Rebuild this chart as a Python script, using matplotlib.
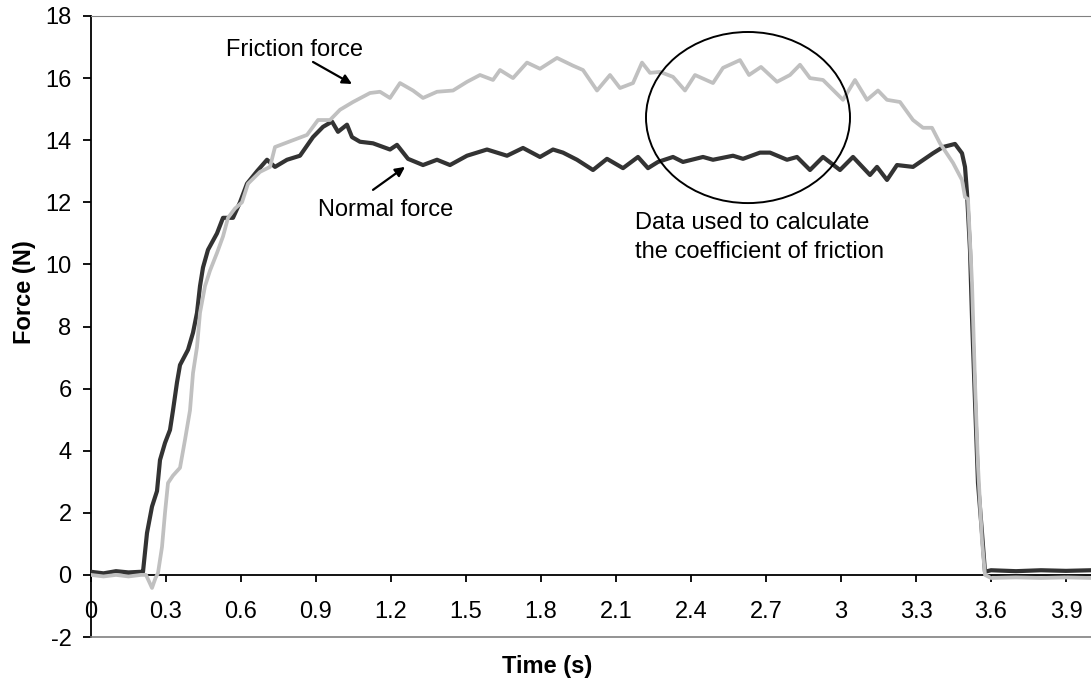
import matplotlib.pyplot as plt
from matplotlib.patches import Ellipse

plt.rcParams['font.family'] = ['Liberation Sans', 'DejaVu Sans']
plt.rcParams['axes.unicode_minus'] = False

# Normal force (dark curve)
t_normal = [0, 0.05, 0.1, 0.15, 0.2, 0.208, 0.224, 0.244, 0.264, 0.276, 0.296, 0.316, 0.328, 0.344,
            0.356, 0.388, 0.408, 0.424, 0.436, 0.448, 0.468, 0.504, 0.528, 0.568, 0.596, 0.624,
            0.664, 0.704, 0.736, 0.784, 0.836, 0.888, 0.928, 0.964, 0.988, 1.024, 1.044, 1.076,
            1.128, 1.196, 1.224, 1.268, 1.328, 1.384, 1.436, 1.504, 1.584, 1.664, 1.728, 1.796,
            1.848, 1.888, 1.944, 2.008, 2.064, 2.128, 2.188, 2.228, 2.268, 2.328, 2.368, 2.448,
            2.488, 2.568, 2.608, 2.676, 2.716, 2.784, 2.824, 2.876, 2.928, 2.996, 3.048, 3.116,
            3.144, 3.184, 3.224, 3.288, 3.368, 3.408, 3.456, 3.484, 3.496, 3.504, 3.516, 3.524,
            3.536, 3.548, 3.564, 3.576, 3.6, 3.7, 3.8, 3.9, 4.0]
f_normal = [0.1, 0.05, 0.12, 0.08, 0.1, 0.1, 1.35, 2.2, 2.7, 3.7, 4.25, 4.67, 5.3, 6.2,
            6.76, 7.25, 7.8, 8.44, 9.3, 9.9, 10.47, 11.0, 11.5, 11.5, 12.0, 12.6,
            13.0, 13.37, 13.14, 13.37, 13.5, 14.1, 14.43, 14.6, 14.27, 14.5, 14.1, 13.95,
            13.9, 13.7, 13.85, 13.4, 13.2, 13.37, 13.2, 13.5, 13.7, 13.5, 13.75, 13.46,
            13.7, 13.6, 13.37, 13.04, 13.4, 13.1, 13.46, 13.1, 13.3, 13.46, 13.3, 13.46,
            13.37, 13.5, 13.4, 13.6, 13.6, 13.37, 13.46, 13.04, 13.46, 13.04, 13.46, 12.88,
            13.14, 12.72, 13.2, 13.14, 13.58, 13.78, 13.88, 13.58, 13.14, 12.3, 10.47, 8.3,
            5.6, 2.96, 1.35, 0.1, 0.15, 0.12, 0.15, 0.13, 0.15]

# Friction force (light curve)
t_friction = [0, 0.05, 0.1, 0.15, 0.2, 0.22, 0.244, 0.258, 0.268, 0.284, 0.296, 0.308, 0.328,
              0.356, 0.376, 0.396, 0.408, 0.424, 0.436, 0.456, 0.476, 0.504, 0.528, 0.548,
              0.576, 0.604, 0.628, 0.676, 0.716, 0.736, 0.808, 0.864, 0.908, 0.956, 0.996,
              1.048, 1.116, 1.156, 1.196, 1.236, 1.288, 1.328, 1.384, 1.448, 1.504, 1.556,
              1.608, 1.636, 1.688, 1.744, 1.796, 1.864, 1.928, 1.968, 2.024, 2.076, 2.116,
              2.168, 2.204, 2.236, 2.276, 2.328, 2.376, 2.416, 2.488, 2.528, 2.596, 2.632,
              2.68, 2.744, 2.796, 2.836, 2.876, 2.928, 3.008, 3.056, 3.104, 3.148, 3.184,
              3.236, 3.288, 3.328, 3.364, 3.396, 3.448, 3.484, 3.496, 3.508, 3.524, 3.536,
              3.548, 3.564, 3.576, 3.6, 3.7, 3.8, 3.9, 4.0]
f_friction = [0.0, -0.05, 0.0, -0.05, 0.0, 0.0, -0.42, -0.1, 0.06, 0.9, 2.0, 2.96, 3.2,
              3.45, 4.35, 5.3, 6.5, 7.34, 8.44, 9.3, 9.8, 10.37, 10.9, 11.5,
              11.8, 12.0, 12.6, 12.98, 13.14, 13.78, 14.0, 14.17, 14.65, 14.65, 14.98,
              15.23, 15.52, 15.56, 15.36, 15.84, 15.6, 15.36, 15.56, 15.6, 15.88, 16.1,
              15.94, 16.26, 16.0, 16.5, 16.3, 16.65, 16.4, 16.26, 15.6, 16.1, 15.68,
              15.84, 16.5, 16.17, 16.2, 16.04, 15.6, 16.1, 15.84, 16.33, 16.58, 16.1,
              16.36, 15.88, 16.1, 16.43, 16.0, 15.94, 15.3, 15.94, 15.3, 15.6, 15.3,
              15.23, 14.65, 14.4, 14.4, 13.9, 13.27, 12.72, 12.17, 12.1, 9.4, 6.2,
              3.5, 1.1, 0.0, -0.1, -0.08, -0.1, -0.08, -0.1]

x_ticks = [0, 0.3, 0.6, 0.9, 1.2, 1.5, 1.8, 2.1, 2.4, 2.7, 3, 3.3, 3.6, 3.9]
x_labels = ['0', '0.3', '0.6', '0.9', '1.2', '1.5', '1.8', '2.1', '2.4', '2.7', '3', '3.3', '3.6', '3.9']
y_ticks = list(range(-2, 19, 2))

fs = 17

fig = plt.figure(figsize=(10.91, 6.81), dpi=100)
ax = fig.add_axes([91 / 1091, 1 - 637 / 681, 1 - 91 / 1091, (637 - 16) / 681])

ax.plot(t_normal, f_normal, color='#333333', lw=3.0, zorder=3)
ax.plot(t_friction, f_friction, color='#c0c0c0', lw=2.7, zorder=4)

ax.set_xlim(0, 4.0)
ax.set_ylim(-2, 18)

# x axis drawn through y = 0, frame lines in grey
ax.spines['bottom'].set_position(('data', 0))
ax.spines['bottom'].set_color('black')
ax.spines['bottom'].set_linewidth(1.3)
ax.spines['left'].set_linewidth(1.3)
ax.spines['right'].set_visible(False)
ax.spines['top'].set_color('#808080')
ax.axhline(-2, color='#808080', lw=1.2, clip_on=False, zorder=5)

ax.set_xticks(x_ticks)
ax.set_xticklabels(x_labels)
ax.set_yticks(y_ticks)
ax.tick_params(axis='x', direction='out', length=5, width=1.3, pad=14, labelsize=fs)
ax.tick_params(axis='y', direction='out', length=6, width=1.3, pad=8, labelsize=fs)

fig.text(25 / 1091, 1 - 292 / 681, 'Force (N)', rotation=90, ha='center', va='center',
         fontsize=fs, fontweight='bold')
fig.text(547 / 1091, 1 - 666 / 681, 'Time (s)', ha='center', va='center',
         fontsize=fs, fontweight='bold')

arrow = dict(arrowstyle='-|>', color='black', lw=1.6, mutation_scale=14, shrinkA=0, shrinkB=0)
ax.annotate('', xy=(1.044, 15.81), xytext=(0.888, 16.52), arrowprops=arrow)
ax.text(0.816, 16.9, 'Friction force', ha='center', va='center', fontsize=fs)
ax.annotate('', xy=(1.256, 13.14), xytext=(1.128, 12.40), arrowprops=arrow)
ax.text(1.18, 11.76, 'Normal force', ha='center', va='center', fontsize=fs)

ax.add_patch(Ellipse((2.628, 14.73), 0.816, 5.51, fill=False, edgecolor='black', lw=1.4, zorder=6))
ax.text(2.176, 10.87, 'Data used to calculate\nthe coefficient of friction', ha='left', va='center',
        fontsize=fs, linespacing=1.45)

fig.savefig('out.png', dpi=100)
